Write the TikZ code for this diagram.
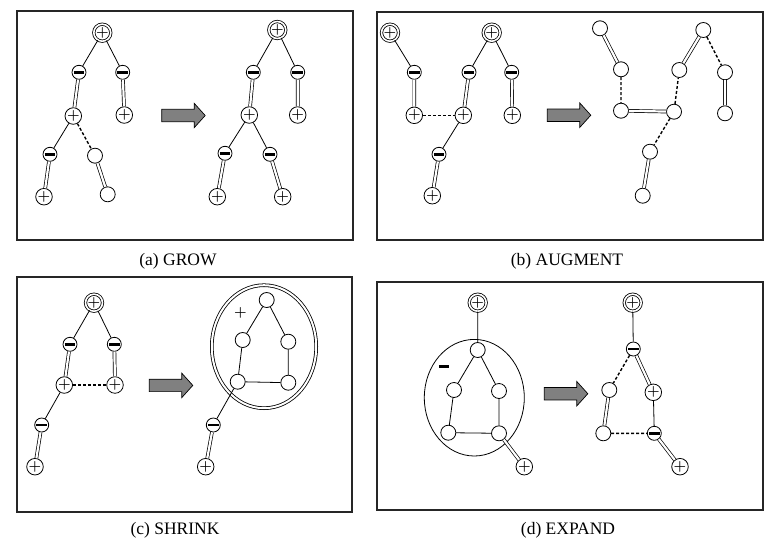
\documentclass[tikz,border=0pt]{standalone}
\usepackage{fontspec}
\setmainfont{Liberation Serif}
\usepackage{tikz}
\usetikzlibrary{calc}
\newcommand{\pls}{$+$}
\newcommand{\mns}{\rule[-1.4pt]{10.5pt}{2.8pt}}
\tikzset{
  vtx/.style={circle,draw,fill=white,inner sep=0pt,minimum size=14pt,line width=0.8pt,font=\fontsize{15}{15}\selectfont\boldmath},
  rootv/.style={vtx,double,double distance=1.6pt,minimum size=17pt},
  free/.style={vtx,minimum size=15pt},
  tree/.style={line width=0.8pt},
  match/.style={line width=0.7pt,double,double distance=2.2pt},
  nonm/.style={line width=1.4pt,dash pattern=on 3pt off 2pt},
  panel/.style={line width=1.3pt,draw=black!85},
  caption/.style={font=\fontsize{17.5}{20}\selectfont},
  bigarr/.pic={\draw[fill=black!50,line width=0.7pt] (0,-6.2) -- (32.5,-6.2) -- (32.5,-12.2) -- (43.5,0) -- (32.5,12.2) -- (32.5,6.2) -- (0,6.2) -- cycle;}
}
\begin{document}
\begin{tikzpicture}[x=1pt,y=-1pt]
\useasboundingbox (0,0) rectangle (784,544);
% frames
\draw[panel] (17,11) rectangle (353,240);
\draw[panel] (377,12) rectangle (763,240);
\draw[panel] (17,277) rectangle (352,512);
\draw[panel] (377,282) rectangle (763,510);
\node[caption] (capa) at (178,261) {(a) GROW};
\node[caption] (capb) at (567,261) {(b) AUGMENT};
\node[caption] (capc) at (175,530) {(c) SHRINK};
\node[caption] (capd) at (568,530) {(d) EXPAND};

% (a) GROW
\node[rootv] (ga0) at (102.3,32.7) {\pls};
\node[vtx] (ga1) at (79,72.3) {\mns};
\node[vtx] (ga2) at (122.7,72.3) {\mns};
\node[vtx] (ga3) at (73.3,116) {\pls};
\node[vtx] (ga4) at (124.3,115) {\pls};
\node[vtx] (ga5) at (50,154.3) {\mns};
\node[free] (ga6) at (95,155.7) {};
\node[vtx] (ga7) at (44,196.7) {\pls};
\node[free] (ga8) at (107.7,194.3) {};
\draw[tree] (ga0) -- (ga1) (ga0) -- (ga2) (ga3) -- (ga5);
\draw[match] (ga1) -- (ga3) (ga2) -- (ga4) (ga5) -- (ga7) (ga6) -- (ga8);
\draw[nonm] (ga3) -- (ga6);
\pic at (161.7,115.5) {bigarr};
\node[rootv] (gb0) at (277.3,30) {\pls};
\node[vtx] (gb1) at (253.3,72.3) {\mns};
\node[vtx] (gb2) at (297.7,72.3) {\mns};
\node[vtx] (gb3) at (249.3,115) {\pls};
\node[vtx] (gb4) at (297.7,115) {\pls};
\node[vtx] (gb5) at (225,153.3) {\mns};
\node[vtx] (gb6) at (270,154.3) {\mns};
\node[vtx] (gb7) at (217.3,196.7) {\pls};
\node[vtx] (gb8) at (282.7,196.7) {\pls};
\draw[tree] (gb0) -- (gb1) (gb0) -- (gb2) (gb3) -- (gb5) (gb3) -- (gb6);
\draw[match] (gb1) -- (gb3) (gb2) -- (gb4) (gb5) -- (gb7) (gb6) -- (gb8);

% (b) AUGMENT
\node[rootv] (aa0) at (390,32.7) {\pls};
\node[vtx] (aa1) at (414.3,72.3) {\mns};
\node[vtx] (aa2) at (414.3,115.3) {\pls};
\node[rootv] (aa3) at (491.7,32.7) {\pls};
\node[vtx] (aa4) at (469,72.3) {\mns};
\node[vtx] (aa5) at (511.7,72.3) {\mns};
\node[vtx] (aa6) at (463.3,115.3) {\pls};
\node[vtx] (aa7) at (512.3,115.3) {\pls};
\node[vtx] (aa8) at (439,154.3) {\mns};
\node[vtx] (aa9) at (432.3,195.7) {\pls};
\draw[tree] (aa0) -- (aa1) (aa3) -- (aa4) (aa3) -- (aa5) (aa6) -- (aa8);
\draw[match] (aa1) -- (aa2) (aa4) -- (aa6) (aa5) -- (aa7) (aa8) -- (aa9);
\draw[nonm] (aa2) -- (aa6);
\pic at (547.3,115.2) {bigarr};
\node[free] (ab0) at (600,28.3) {};
\node[free] (ab1) at (621,69.3) {};
\node[free] (ab2) at (621,110.7) {};
\node[free] (ab3) at (703.3,30) {};
\node[free] (ab4) at (679.3,70) {};
\node[free] (ab5) at (674,111.7) {};
\node[free] (ab6) at (725,72.3) {};
\node[free] (ab7) at (725,113.3) {};
\node[free] (ab8) at (650,151.7) {};
\node[free] (ab9) at (642.7,195.7) {};
\draw[match] (ab0) -- (ab1) (ab2) -- (ab5) (ab4) -- (ab3) (ab6) -- (ab7) (ab8) -- (ab9);
\draw[nonm] (ab1) -- (ab2) (ab5) -- (ab4) (ab3) -- (ab6) (ab5) -- (ab8);

% (c) SHRINK
\node[rootv] (sa0) at (94,302.7) {\pls};
\node[vtx] (sa1) at (70,344.3) {\mns};
\node[vtx] (sa2) at (114.3,344.3) {\mns};
\node[vtx] (sa3) at (64.3,385) {\pls};
\node[vtx] (sa4) at (115,385) {\pls};
\node[vtx] (sa5) at (41.7,425) {\mns};
\node[vtx] (sa6) at (35,466.7) {\pls};
\draw[tree] (sa0) -- (sa1) (sa0) -- (sa2) (sa3) -- (sa5);
\draw[match] (sa1) -- (sa3) (sa2) -- (sa4) (sa5) -- (sa6);
\draw[nonm] (sa3) -- (sa4);
\pic at (149.3,385.4) {bigarr};
\draw[line width=0.8pt,double,double distance=2pt] (264,346.7) ellipse [x radius=52.2,y radius=61.5];
\node[font=\fontsize{14}{14}\selectfont\boldmath] (splus) at (240.5,312.7) {$+$};
\node[free] (sb0) at (266.7,300) {};
\node[free] (sb1) at (242.7,340) {};
\node[free] (sb2) at (288.3,341.7) {};
\node[free] (sb3) at (237.7,381.7) {};
\node[free] (sb4) at (288.3,382.7) {};
\node[vtx] (sb5) at (213.3,425) {\mns};
\node[vtx] (sb6) at (205.7,466.7) {\pls};
\draw[tree] (sb0) -- (sb1) (sb0) -- (sb2) (sb1) -- (sb3) (sb2) -- (sb4) (sb3) -- (sb4) (sb3) -- (sb5);
\draw[match] (sb5) -- (sb6);

% (d) EXPAND
\draw[line width=0.8pt] (474.3,397.7) ellipse [x radius=50,y radius=58.3];
\node (dminus) at (444,366.7) {\mns};
\node[rootv] (ea0) at (477.7,302.7) {\pls};
\node[free] (ea1) at (477.7,350) {};
\node[free] (ea2) at (454,390) {};
\node[free] (ea3) at (499,391) {};
\node[free] (ea4) at (448.3,432.7) {};
\node[free] (ea5) at (499,433.3) {};
\node[vtx] (ea6) at (524.3,466.7) {\pls};
\draw[tree] (ea0) -- (ea1) (ea1) -- (ea2) (ea1) -- (ea3) (ea2) -- (ea4) (ea3) -- (ea5) (ea4) -- (ea5);
\draw[match] (ea5) -- (ea6);
\pic at (544.3,393.7) {bigarr};
\node[rootv] (eb0) at (632.7,302.7) {\pls};
\node[vtx] (eb1) at (633.3,349) {\mns};
\node[free] (eb2) at (609.3,390) {};
\node[vtx] (eb3) at (653.3,392.3) {\pls};
\node[free] (eb4) at (603.3,433.3) {};
\node[vtx] (eb5) at (654.3,433.3) {\mns};
\node[vtx] (eb6) at (680,466.7) {\pls};
\draw[tree] (eb0) -- (eb1) (eb3) -- (eb5);
\draw[match] (eb1) -- (eb3) (eb2) -- (eb4) (eb5) -- (eb6);
\draw[nonm] (eb1) -- (eb2) (eb4) -- (eb5);
\end{tikzpicture}
\end{document}
